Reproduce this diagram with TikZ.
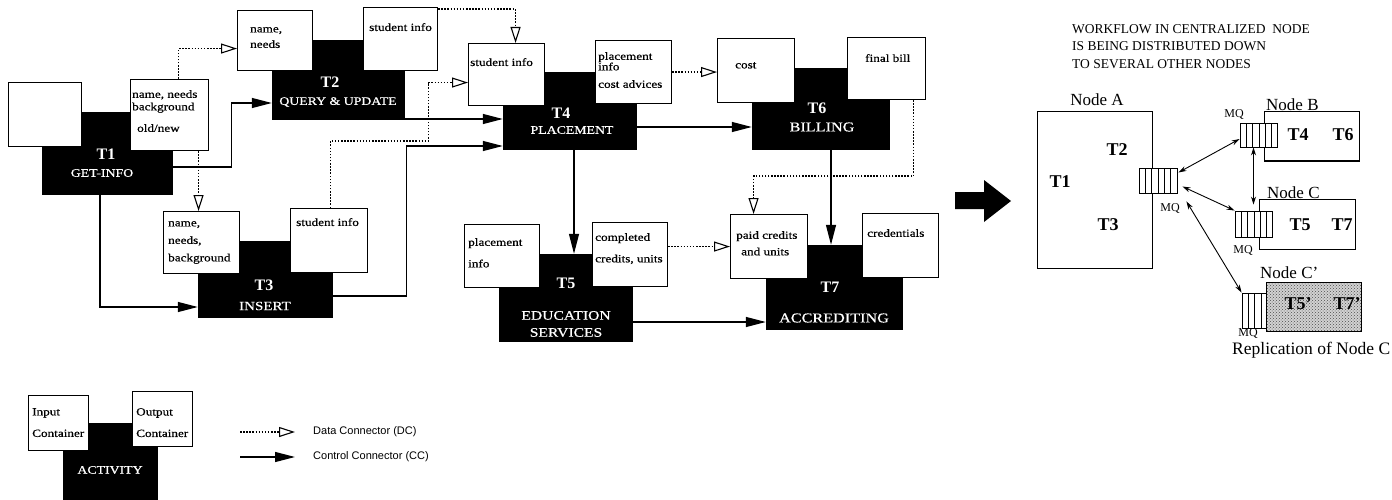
\documentclass[tikz,border=0pt]{standalone}
\usepackage{fontspec}
\setmainfont{Liberation Serif}
\newfontfamily\widefont{Liberation Serif}[FakeStretch=1.2,FakeBold=0.6]
\newfontfamily\legfont{Liberation Sans}
\usepackage{tikz}
\usetikzlibrary{positioning,arrows.meta,patterns}
\newcommand{\cfont}{\widefont\fontsize{11}{12.5}\selectfont}

\begin{document}
\begin{tikzpicture}[x=1pt,y=-1pt,
 box/.style={draw,line width=1.1pt,fill=white,anchor=north west,minimum width=76pt,minimum height=63pt,inner sep=0pt},
 ct/.style={anchor=north west,align=left,inner sep=0pt,font=\cfont},
 act/.style={fill=black,inner sep=0pt},
 tnum/.style={text=white,inner sep=0pt,font=\bfseries\fontsize{16}{16}\selectfont},
 tname/.style={text=white,inner sep=0pt,align=center,font=\widefont\fontsize{11.5}{17}\selectfont},
 dc/.style={line width=1.5pt,dash pattern=on 1.5pt off 1.6pt,-{Triangle[open,length=16pt,width=10pt,line width=1.1pt]}},
 cc/.style={line width=1.3pt,-{Triangle[length=20pt,width=10pt]}},
 nbox/.style={draw,line width=1pt,fill=white,inner sep=0pt},
 mq/.style={draw,line width=0.9pt,fill=white,inner sep=0pt,minimum width=38pt,minimum height=25pt,
  path picture={\foreach \k in {1,...,5}\draw[line width=0.8pt]([xshift=\k*6.33pt]path picture bounding box.south west)--([xshift=\k*6.33pt]path picture bounding box.north west);}},
 tt/.style={inner sep=0pt,font=\bfseries\fontsize{18}{18}\selectfont},
 lbl/.style={inner sep=0pt,font=\fontsize{17}{17}\selectfont},
 mql/.style={inner sep=0pt,font=\fontsize{12}{12}\selectfont},
 link/.style={line width=0.9pt,{Stealth[length=8pt,width=5pt]}-{Stealth[length=8pt,width=5pt]}}]
 \useasboundingbox (0,0) rectangle (1392,500);

 \node[act,minimum width=131pt,minimum height=83pt] (t1) at (107.5,153.5) {};
 \node[act,minimum width=133pt,minimum height=80pt] (t2) at (338.5,80) {};
 \node[act,minimum width=135pt,minimum height=77pt] (t3) at (265.5,279.5) {};
 \node[act,minimum width=134pt,minimum height=78pt] (t4) at (570,111) {};
 \node[act,minimum width=138pt,minimum height=82pt] (t6) at (821,109) {};
 \node[act,minimum width=134pt,minimum height=88pt] (t5) at (566,298) {};
 \node[act,minimum width=137pt,minimum height=85pt] (t7) at (834.5,287.5) {};
 \node[act,minimum width=95pt,minimum height=85pt] (lga) at (110.5,465) {};

 \node[box,minimum width=73pt,minimum height=64pt] (t1in) at (8,82) {};
 \node[box,minimum width=78pt,minimum height=71pt,label={[ct,xshift=2pt,yshift=-11pt]north west:{name, needs\\background\\[9pt]\hspace{5pt}old/new}}] (t1out) at (130,79) {};
 \node[box,minimum width=75pt,minimum height=60pt,label={[ct,xshift=13pt,yshift=-17pt]north west:{name,\\[3pt]needs}}] (t2in) at (237,10) {};
 \node[box,minimum width=74pt,label={[ct,xshift=6pt,yshift=-16pt]north west:{student info}}] (t2out) at (363,7) {};
 \node[box,minimum height=62pt,label={[ct,xshift=5pt,yshift=-10pt]north west:{name,\\[5pt]needs,\\[5pt]background}}] (t3in) at (163,211) {};
 \node[box,minimum width=77pt,minimum height=64pt,label={[ct,xshift=6pt,yshift=-10pt]north west:{student info}}] (t3out) at (290,208) {};
 \node[box,minimum height=62pt,label={[ct,xshift=2pt,yshift=-15pt]north west:{student info}}] (t4in) at (468,43) {};
 \node[box,label={[ct,xshift=3pt,yshift=-12pt]north west:{placement\\[-2pt]info\\[5pt]cost advices}}] (t4out) at (595,40) {};
 \node[box,minimum width=77pt,minimum height=64pt,label={[ct,xshift=18pt,yshift=-24pt]north west:{cost}}] (t6in) at (717,38) {};
 \node[box,minimum width=78pt,minimum height=62pt,label={[ct,xshift=18pt,yshift=-17pt]north west:{final bill}}] (t6out) at (847,37) {};
 \node[box,minimum width=75pt,label={[ct,xshift=4pt,yshift=-14pt]north west:{placement\\[9pt]info}}] (t5in) at (464,224) {};
 \node[box,minimum width=75pt,minimum height=64pt,label={[ct,xshift=3pt,yshift=-11pt]north west:{completed\\[9pt]credits, units}}] (t5out) at (592,222) {};
 \node[box,minimum width=77pt,minimum height=64pt,label={[ct,xshift=6pt,yshift=-17pt]north west:{paid credits\\[4pt]\hspace{5pt}and units}}] (t7in) at (730,214) {};
 \node[box,minimum height=64pt,label={[ct,xshift=5pt,yshift=-16pt]north west:{credentials}}] (t7out) at (862,213) {};
 \node[box,minimum width=60pt,minimum height=55pt,label={[ct,xshift=4pt,yshift=-13pt]north west:{Input\\[9pt]Container}}] (lgin) at (28,395) {};
 \node[box,minimum width=60pt,minimum height=55pt,label={[ct,xshift=4pt,yshift=-17pt]north west:{Output\\[9pt]Container}}] (lgout) at (132,391) {};

 \node[tnum] (t1id) at (106,154) {T1};
 \node[tname] (t1nm) at (102,173) {GET-INFO};
 \node[tnum] (t2id) at (330,82) {T2};
 \node[tname] (t2nm) at (338,102) {QUERY \& UPDATE};
 \node[tnum] (t3id) at (264,285) {T3};
 \node[tname,font=\widefont\fontsize{12.5}{17}\selectfont] (t3nm) at (265,306) {INSERT};
 \node[tnum] (t4id) at (561,113) {T4};
 \node[tname] (t4nm) at (572,130) {PLACEMENT};
 \node[tnum] (t6id) at (817,108) {T6};
 \node[tname,font=\widefont\fontsize{13.5}{17}\selectfont] (t6nm) at (822,127) {BILLING};
 \node[tnum] (t5id) at (566,283) {T5};
 \node[tname,font=\widefont\fontsize{13}{17}\selectfont] (t5nm) at (566,324) {EDUCATION\\SERVICES};
 \node[tnum] (t7id) at (830,287) {T7};
 \node[tname,font=\widefont\fontsize{13.5}{17}\selectfont] (t7nm) at (834,318) {ACCREDITING};
 \node[tname] (lganm) at (110,470) {ACTIVITY};

 \draw[dc] ([xshift=9pt]t1out.north) |- ([yshift=-8pt]t2in.west);
 \draw[dc] ([xshift=29pt]t1out.south) -- ([xshift=-3pt]t3in.north);
 \draw[dc] ([yshift=-2pt]t2out.north east) -| ([xshift=9pt]t4in.north);
 \draw[dc] ([xshift=1.5pt]t3out.north) -- ++(0,-67) -- ++(98,0) |- ([yshift=-8pt]t4in.west);
 \draw[dc] (t4out.east) -- (t6in.west |- t4out.east);
 \draw[dc] ([xshift=27pt]t6out.south) -- ++(0,76) -| ([xshift=-15.5pt]t7in.north);
 \draw[dc] ([yshift=8pt]t5out.east) -- (t7in.west);

 \draw[cc] ([yshift=-13.5pt]t1.east) -- ++(58,0) |- ([yshift=-23pt]t2.west);
 \draw[cc] ([xshift=-7.5pt]t1.south) |- ([yshift=-27.5pt]t3.west);
 \draw[cc] ([yshift=-39pt]t2.east) -- ([yshift=-8pt]t4.west);
 \draw[cc] ([yshift=-16.5pt]t3.east) -- ++(73,0) |- ([yshift=-35pt]t4.west);
 \draw[cc] ([yshift=-16pt]t4.east) -- ([yshift=-18pt]t6.west);
 \draw[cc] ([xshift=4pt]t4.south) -- ([xshift=8pt]t5.north);
 \draw[cc] ([xshift=10pt]t6.south) -- ([xshift=-3.5pt]t7.north);
 \draw[cc] ([yshift=-24pt]t5.east) -- ([yshift=-34.5pt]t7.west);

 \coordinate (ldc) at (240,432);
 \coordinate (lcc) at (240,457);
 \node[anchor=west,inner sep=0pt,font=\legfont\fontsize{11}{11}\selectfont] (ldct) at (313,432) {Data Connector (DC)};
 \node[anchor=west,inner sep=0pt,font=\legfont\fontsize{11}{11}\selectfont] (lcct) at (313,457) {Control Connector (CC)};
 \draw[dc] (ldc) -- ([xshift=-18pt]ldct.west);
 \draw[cc] (lcc) -- ([xshift=-18pt]lcct.west);

 \fill (955,192) -- (984,192) -- (984,180) -- (1011,201) -- (984,222) -- (984,209) -- (955,209) -- cycle;

 \node[anchor=north west,align=left,inner sep=0pt,font=\fontsize{13.5}{17.5}\selectfont] (title) at (1072,24)
  {WORKFLOW IN CENTRALIZED~~NODE\\IS BEING DISTRIBUTED DOWN\\TO SEVERAL OTHER NODES};

 \node[nbox,minimum width=115pt,minimum height=156pt] (na) at (1094.5,190) {};
 \node[lbl] (nal) at (1097,100) {Node A};
 \node[tt] (na1) at (1060,182) {T1};
 \node[tt] (na2) at (1117,150) {T2};
 \node[tt] (na3) at (1108,225) {T3};
 \node[mq] (mqa) at (1158,180.5) {};
 \node[mql] (mqal) at (1170,208) {MQ};

 \node[nbox,minimum width=95pt,minimum height=49pt] (nb) at (1312,136.5) {};
 \node[lbl,anchor=base west] (nbl) at (1266,111) {Node B};
 \node[tt] (nb4) at (1298,135) {T4};
 \node[tt] (nb6) at (1343,135) {T6};
 \node[mq,minimum width=37pt,minimum height=24pt] (mqb) at (1258.5,135) {};
 \node[mql] (mqbl) at (1234,115) {MQ};

 \node[nbox,minimum width=96pt,minimum height=50pt] (nc) at (1307,224) {};
 \node[lbl,anchor=base west] (ncl) at (1267,198) {Node C};
 \node[tt] (nc5) at (1300,225) {T5};
 \node[tt] (nc7) at (1342,225) {T7};
 \node[mq,minimum width=37pt,minimum height=26pt] (mqc) at (1253.5,224) {};
 \node[mql] (mqcl) at (1243,250) {MQ};

 \node[draw,line width=1pt,inner sep=0pt,minimum width=95pt,minimum height=49pt,preaction={fill=gray!35},pattern=crosshatch dots,pattern color=black!70] (ncc) at (1313.5,306.5) {};
 \node[lbl,anchor=base west] (nccl) at (1260,278) {Node C'};
 \node[tt] (ncc5) at (1298,304) {T5'};
 \node[tt] (ncc7) at (1347,304) {T7'};
 \node[mq,minimum width=24pt,minimum height=35pt] (mqcc) at (1254,310.5) {};
 \node[mql] (mqccl) at (1248,333) {MQ};
 \node[anchor=west,inner sep=0pt,font=\fontsize{17.5}{17.5}\selectfont] (repl) at (1232,350) {Replication of Node C};

 \draw[link] ([xshift=1pt,yshift=8pt]mqa.east) -- ([yshift=-4pt]mqb.west);
 \draw[link] ([xshift=-5pt]mqb.south) -- ([yshift=6pt]mqc.north);
 \draw[link] ([xshift=5pt,yshift=-6pt]mqa.east) -- (mqc.north west);
 \draw[link] ([xshift=9pt,yshift=-8pt]mqa.south east) -- (mqcc.north west);
\end{tikzpicture}
\end{document}
